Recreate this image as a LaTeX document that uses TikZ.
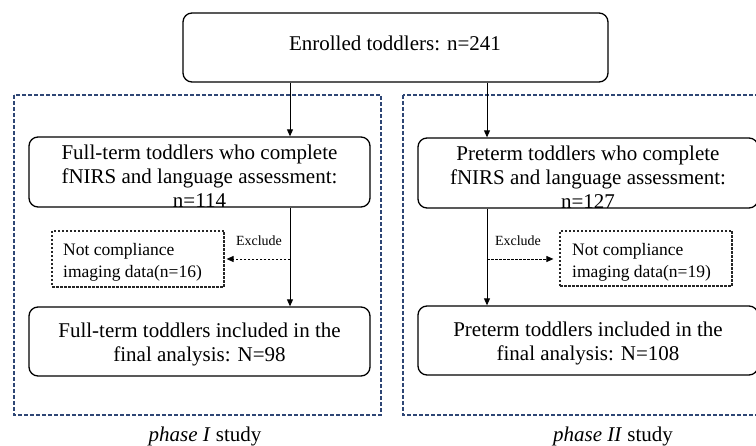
\documentclass[tikz,border=0pt]{standalone}
\usepackage{fontspec}
\setmainfont{Liberation Serif}
\usetikzlibrary{arrows.meta}
\definecolor{framecol}{HTML}{2E4675}
\tikzset{
  stagebox/.style={draw=black, line width=1.3pt, rounded corners=9pt, inner sep=0pt},
  excludebox/.style={draw=black!85, line width=1.2pt, dash pattern=on 2.5pt off 1.5pt, inner sep=0pt},
  phaseframe/.style={draw=framecol, line width=1.3pt, dash pattern=on 4pt off 2pt},
  bigtext/.style={font=\fontsize{21}{24}\selectfont, align=center, inner sep=0pt},
  smalltext/.style={font=\fontsize{17.5}{22}\selectfont, align=left, inner sep=0pt, anchor=west},
  tinytext/.style={font=\fontsize{14}{16}\selectfont, inner sep=0pt},
  flow/.style={draw=black, line width=0.9pt, -{Triangle[length=7pt,width=6pt]}},
  dflow/.style={draw=black, line width=0.9pt, dash pattern=on 2.5pt off 1.5pt, -{Triangle[length=7pt,width=6pt]}},
}
\begin{document}
\begin{tikzpicture}[x=1pt, y=-1pt]
\useasboundingbox (0,0) rectangle (756,446);
\clip (0,0) rectangle (756,446);

% phase frames
\draw[phaseframe] (14,95) rectangle (381,415);
\draw[phaseframe] (403,95) rectangle (762,415);
\node[bigtext] (lab1) at (205,436) {\textit{phase I} study};
\node[bigtext] (lab2) at (613,436) {\textit{phase II} study};

% enrolment
\node[stagebox, minimum width=425pt, minimum height=69pt] (top) at (395.5,47.5) {};
\node[bigtext] (toptxt) at (395,43) {Enrolled toddlers: n=241};

% phase I column
\node[stagebox, minimum width=341pt, minimum height=70pt] (a1) at (199.5,172) {};
\node[bigtext] (a1txt) at (199.5,176) {Full-term toddlers who complete\\fNIRS and language assessment:\\n=114};
\node[excludebox, minimum width=172pt, minimum height=56pt] (ax) at (138,259) {};
\node[smalltext] (axtxt) at (63,262) {Not compliance\\imaging data(n=16)};
\node[stagebox, minimum width=341pt, minimum height=69pt] (a2) at (199.5,341.5) {};
\node[bigtext] (a2txt) at (199.5,344) {Full-term toddlers included in the\\final analysis: N=98};
\coordinate (asplit) at (290,259);
\node[tinytext] (aex) at (259,241) {Exclude};

% phase II column
\node[stagebox, minimum width=340pt, minimum height=70pt] (b1) at (588,173) {};
\node[bigtext] (b1txt) at (588,177) {Preterm toddlers who complete\\fNIRS and language assessment:\\n=127};
\node[excludebox, minimum width=172pt, minimum height=55pt] (bx) at (646,258.5) {};
\node[smalltext] (bxtxt) at (572,262) {Not compliance\\imaging data(n=19)};
\node[stagebox, minimum width=340pt, minimum height=69pt] (b2) at (588,340.5) {};
\node[bigtext] (b2txt) at (588,343) {Preterm toddlers included in the\\final analysis: N=108};
\coordinate (bsplit) at (487,259);
\node[tinytext] (bex) at (518,241) {Exclude};

% connectors
\draw[flow] (top.south -| asplit) -- (a1.north -| asplit);
\draw[flow] (top.south -| bsplit) -- (b1.north -| bsplit);
\draw[flow] (a1.south -| asplit) -- (a2.north -| asplit);
\draw[flow] (b1.south -| bsplit) -- (b2.north -| bsplit);
\draw[dflow] (asplit) -- ([xshift=2pt]ax.east |- asplit);
\draw[dflow] (bsplit) -- ([xshift=-6pt]bx.west |- bsplit);
\end{tikzpicture}
\end{document}
